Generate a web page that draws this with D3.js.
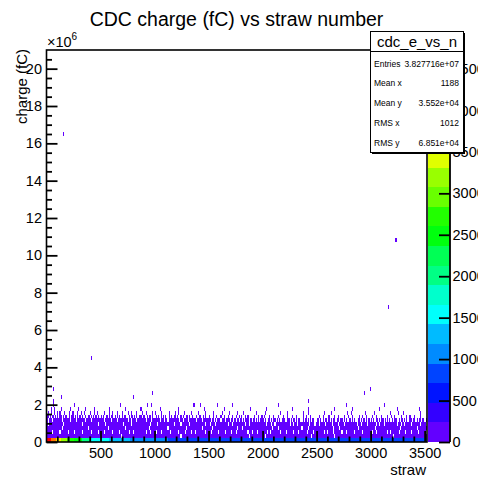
<!DOCTYPE html>
<html><head><meta charset="utf-8">
<script src="https://cdn.jsdelivr.net/npm/d3@7"></script>
<style>
body{margin:0;background:#fff}
svg text{font-family:"Liberation Sans",Arial,Helvetica,sans-serif;fill:#000}
</style></head>
<body><svg id="c" width="478" height="479"></svg>
<script>
// ---------------- data ----------------
const chartTitle = "CDC charge (fC) vs straw number";
const xTitle = "straw";
const yTitle = "charge (fC)";
const xDomain = [0, 3522];
const yDomain = [0, 21e6];
const zMax = 4729;
const nContours = 20;
const xTickValues = [500, 1000, 1500, 2000, 2500, 3000, 3500];
const yTickValues = [0, 2e6, 4e6, 6e6, 8e6, 10e6, 12e6, 14e6, 16e6, 18e6, 20e6];
const zTickValues = [0, 500, 1000, 1500, 2000, 2500, 3000, 3500, 4000, 4500];
const xBin = 10;        // straws per drawn column
const yBin = 0.21e6;    // fC per bin

const row0Straws = [42,42,54,54,66,66,80,80,93,93,106,106,123,123,135,135,146,146,158,158,170,170,182,182,197,197,209,209];
const row0Counts = [4600,4100,3650,3300,2800,2500,1950,1600,1500,1300,1250,1100,1050,1000,900,850,850,800,800,780,760,760,740,740,730,730,720,720];

// occupancy of the next charge bins ('#' = filled column of 10 straws)
const row1 = ["##########","##########","##########","##########","##########",
  "##########","#########.","##########","##########","##########",
  "##########","##########","####.#####","##########","##########",
  "##########","##########","##########","#######.##","##########",
  "##.#######","##########","##########","##########","#####.####",
  "##########","######.###","##########","##########","##########",
  "##########","##########","#.########","##########","##########","##"];
const row2 = ["#####.####","##.#######",".####.####","###.######","#.######.#",
  "###.######","#.#####.##","######.###",".#########","##.###.###",
  "#.####.###","####.#####","##.#####.#","####.##.##","#######.##",
  "##.######.","#####.####","#.###.####","######.###",".####.####",
  "####.##.##","######.###","##.#####.#","###.######","#.#####.##",
  "#######.##",".####.####","###.###.##","#####.####","##.#######",
  "#.###.####","#####.##.#","######.###","##.####.##","####.#####","#."];
const row3 = ["##########","####.#####","##########","########.#","##########",
  "#######.##","##########","###.######","##########","#####.####",
  "##########","##.#######","#########.","##########","####.#####",
  "###.######","##########","######.###","#.########","##########",
  "#########.","####.#####","##########","######.###","##.#######",
  "##########","#####.####","#.########","########.#","##########",
  "####.#####","##########","#######.##","##########","###.######","##"];
const row4 = ["#.########","#####.####","##########","###.######","########.#",
  "####.#####","##########","#.######.#","##########","######.###",
  "##.#######","########.#","####.#####","##.#######","#######.##",
  "#.####.###","########.#","##.#######","####.##.##","##########",
  "###.####.#","#.########","#####.##.#","##.#######","###.####.#",
  "##.#####.#","####.#####",".####.####","#######.##","#.#####.##",
  "#####.##.#","##.#######","####.###.#","#.#####.##","######.###","#."];
const row5 = ["#.###.####","####.#####","##.####.##","######.###","#.########",
  "###.######",".####.####","#####.##.#","###.######","##.####.##",
  "#####.###.","##.#######","###.##.###","#.######.#","####.#####",
  "##.##.#.##","#.###.####",".##.#.##.#","#.#.###.##",".##.#.#.##",
  "#.#..##.#.","##.#.#..##","#..##.#.##",".#.##..#.#","#.#.#.##..",
  "##.#..#.##",".#.#.##..#","#.##.#.#..","##.#.#..##",".#.##.#.#.",
  "#.#..##.#.","##.#.#.#..","#.##..#.##",".#.#..##.#","#..#.##.#.",".#"];
const row6 = ["##.#.##.#.","#.##.#.##.",".#.##.#.#.","##.#..#.##",".#.#.##.#.",
  "#.#..##.#.","##.#.#.#..","#.##..#.##",".#.#..##.#","#..#.##.#.",
  ".#.#..#.#.","#..#.#..##",".#..#.#..#","#.#..#..#.",".##..#.#..",
  "#...#..#..",".#..#...#.","..#..#..#.","#...#.#...","..#...#..#",
  ".#....#...","#...#....#","...#...#..",".#.....#..","#...#.....",
  "..#...#...",".#....#...","#....#...#","...#.....#","..#...#...",
  ".#...#....","#....#...#","..#.....#.","...#..#...","#.....#...",".."];
const row7 = [".#..#..#..","#.#...#...",".#..#...#.","..#..#....","#...#..#..",
  "...#....#.",".#...#....","#....#..#.","...#....#.","..#.....#.",
  "#.....#...","...#.....#","..#....#..","....#.....","#......#..",
  "....#.....","..#......#","......#...","..#.......","....#.....",
  "..#.......","......#...","...#......",".......#..","..#.......",
  ".......#..","...#......","........#.","..#.......",".....#....",
  "...#......","........#.",".....#....","#.........","......#...",".."];
const row8 = ["....#..#..","...#......","..#......#","......#...","....#.....",
  "........#.","..........","...#......",".......#..","..........",
  ".....#....","..........","..#.......","..........","......#...",
  "..........","....#.....","..........","........#.","..........",
  "...#......","..........",".......#..","..........","..#.......",
  "..........","......#...","..........","...#......","..........",
  "........#.","..........","....#.....","..........",".....#....",".."];
const row9 = ["......#...","..........",".....#....","..........","..........",
  "..........","........#.","..........","..........","...#......",
  "..........","..........","..........","......#...","..........",
  "..........","..........","..#.......","..........","..........",
  "..........","....#.....","..........","..........","..........",
  "..........","..........",".......#..","..........","..........",
  "..........","..#.......","..........","..........","..........",".."];
const denseRows = [row1, row2, row3, row4, row5, row6, row7, row8, row9];
const denseCounts = [150, 80, 40, 20, 10, 5, 3, 2, 1];

// isolated entries [straw, charge fC]
const outlierStraw  = [63, 131, 63, 800, 985, 975, 1425, 1585, 2420, 2945, 2990, 150, 3230, 3160, 415];
const outlierCharge = [2.85e6, 2.45e6, 2.15e6, 2.4e6, 2.6e6, 2.0e6, 2.0e6, 2.0e6, 2.2e6, 2.6e6, 2.85e6, 16.45e6, 10.8e6, 7.25e6, 4.55e6];

const statsName = "cdc_e_vs_n";
const statsLabels = ["Entries", "Mean x", "Mean y", "RMS x", "RMS y"];
const statsValues = ["3.827716e+07", "1188", "3.552e+04", "1012", "6.851e+04"];

// ---------------- drawing ----------------
const svg = d3.select("#c");
const F = {l: 46.5, r: 427, t: 50, b: 442};
const x = d3.scaleLinear().domain(xDomain).range([F.l, F.r]);
const y = d3.scaleLinear().domain(yDomain).range([F.b, F.t]);
const z = d3.scaleLinear().domain([0, zMax]).range([F.b, F.t]);

function bandOf(v){ let c = Math.floor(0.01 + v * nContours / zMax); return Math.min(c, nContours - 1); }
function colorOfBand(c){
  let t = Math.floor((c + 0.99) * 50 / nContours); if (t > 49) t = 49;
  const hue = 280 - (t + 1) * 5.6;
  return d3.hsl(hue, 1, 0.5).formatHex();
}
const colorOf = v => colorOfBand(bandOf(v));

const cells = [];
let s0 = 0;
row0Straws.forEach((n, i) => { cells.push({x0: s0, x1: s0 + n, r: 0, v: row0Counts[i]}); s0 += n; });
denseRows.forEach((segs, ri) => {
  const str = segs.join("");
  for (let c = 0; c < str.length; c++) {
    if (str[c] === "#") cells.push({x0: c * xBin, x1: Math.min((c + 1) * xBin, xDomain[1]), r: ri + 1, v: denseCounts[ri]});
  }
});
outlierStraw.forEach((sx, i) => {
  const c = Math.floor(sx / xBin);
  cells.push({x0: c * xBin, x1: (c + 1) * xBin, r: Math.floor(outlierCharge[i] / yBin), v: 1});
});

svg.append("g").selectAll("rect").data(cells).join("rect")
  .attr("x", d => x(d.x0))
  .attr("width", d => Math.max(1, x(d.x1) - x(d.x0)))
  .attr("y", d => y((d.r + 1) * yBin))
  .attr("height", d => y(d.r * yBin) - y((d.r + 1) * yBin))
  .attr("fill", d => colorOf(d.v))
  .attr("shape-rendering", "crispEdges");

// frame
svg.append("rect").attr("x", F.l).attr("y", F.t).attr("width", F.r - F.l).attr("height", F.b - F.t)
  .attr("fill", "none").attr("stroke", "#000").attr("stroke-width", 1.6);

// x axis
const gx = svg.append("g").attr("transform", `translate(0,${F.b})`)
  .call(d3.axisBottom(x).tickValues(xTickValues).tickSize(-11).tickPadding(6).tickFormat(d3.format("d")));
gx.select(".domain").remove();
gx.selectAll("line").attr("stroke-width", 1.8);
gx.selectAll("text").attr("font-size", 14.5).attr("font-family", null);
const gxm = svg.append("g").attr("transform", `translate(0,${F.b})`)
  .call(d3.axisBottom(x).tickValues(d3.range(100, 3522, 100).filter(v => v % 500)).tickSize(-5.5).tickFormat(""));
gxm.select(".domain").remove();
gxm.selectAll("line").attr("stroke-width", 1.8);

// y axis
const gy = svg.append("g").attr("transform", `translate(${F.l},0)`)
  .call(d3.axisLeft(y).tickValues(yTickValues).tickSize(-11).tickPadding(4.5).tickFormat(d => d / 1e6));
gy.select(".domain").remove();
gy.selectAll("line").attr("stroke-width", 1.8);
gy.selectAll("text").attr("font-size", 14.5).attr("font-family", null);
const gym = svg.append("g").attr("transform", `translate(${F.l},0)`)
  .call(d3.axisLeft(y).tickValues(d3.range(0.5e6, 21e6, 0.5e6).filter(v => v % 2e6 !== 0)).tickSize(-5.5).tickFormat(""));
gym.select(".domain").remove();
gym.selectAll("line").attr("stroke-width", 1.8);

// exponent
const ex = svg.append("text").attr("x", 47).attr("y", 46.5).attr("font-size", 14.5);
ex.append("tspan").text("\u00d710");
ex.append("tspan").attr("font-size", 10).attr("dy", -7).text("6");

// titles
svg.append("text").attr("x", 236.5).attr("y", 25.5).attr("text-anchor", "middle").attr("font-size", 19.5).text(chartTitle);
svg.append("text").attr("x", F.r - 1).attr("y", 475).attr("text-anchor", "end").attr("font-size", 15).text(xTitle);
svg.append("text").attr("transform", `translate(26.5,${F.t - 1}) rotate(-90)`).attr("text-anchor", "end").attr("font-size", 15).text(yTitle);

// palette
const P = {l: 428, r: 450};
const bands = d3.range(nContours);
svg.append("g").selectAll("rect").data(bands).join("rect")
  .attr("x", P.l).attr("width", P.r - P.l)
  .attr("y", b => z((b + 1) * zMax / nContours))
  .attr("height", b => z(b * zMax / nContours) - z((b + 1) * zMax / nContours))
  .attr("fill", b => colorOfBand(b))
  .attr("shape-rendering", "crispEdges");
svg.append("line").attr("x1", P.r).attr("x2", P.r).attr("y1", F.t).attr("y2", F.b).attr("stroke", "#000").attr("stroke-width", 1.8);
const gz = svg.append("g").attr("transform", `translate(${P.r},0)`)
  .call(d3.axisRight(z).tickValues(zTickValues).tickSize(-11).tickPadding(2.5).tickFormat(d3.format("d")));
gz.select(".domain").remove();
gz.selectAll("line").attr("stroke-width", 1.8);
gz.selectAll("text").attr("font-size", 14.5).attr("font-family", null);

// stats box
const S = {x: 370.5, y: 31.5, w: 93, h: 121};
svg.append("rect").attr("x", S.x + 1.5).attr("y", S.y + 1.5).attr("width", S.w).attr("height", S.h).attr("fill", "#000");
svg.append("rect").attr("x", S.x).attr("y", S.y).attr("width", S.w).attr("height", S.h).attr("fill", "#fff").attr("stroke", "#000").attr("stroke-width", 1);
svg.append("line").attr("x1", S.x).attr("x2", S.x + S.w).attr("y1", 51.5).attr("y2", 51.5).attr("stroke", "#000").attr("stroke-width", 1);
svg.append("text").attr("x", S.x + S.w / 2).attr("y", 46.5).attr("text-anchor", "middle").attr("font-size", 15).text(statsName);
statsLabels.forEach((lab, i) => {
  const yy = 66.5 + i * 19.8;
  svg.append("text").attr("x", 374).attr("y", yy).attr("font-size", 8.5).text(lab);
  svg.append("text").attr("x", 459).attr("y", yy).attr("text-anchor", "end").attr("font-size", 8.5).text(statsValues[i]);
});
</script>
</body></html>
